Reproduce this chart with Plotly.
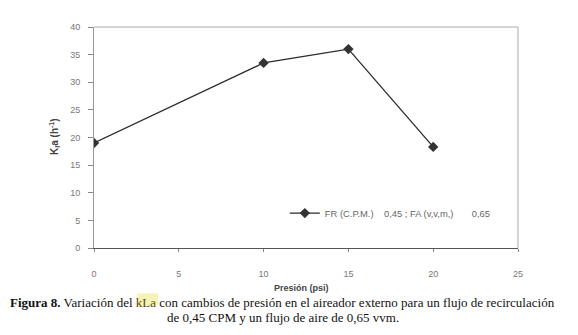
import plotly.graph_objects as go

presion = [0, 10, 15, 20]
kla = [19.0, 33.5, 36.0, 18.3]
x_ticks = [0, 5, 10, 15, 20, 25]
y_ticks = [0, 5, 10, 15, 20, 25, 30, 35, 40]
serie = "FR (C.P.M.)\u00a0\u00a0\u00a0\u00a00,45 ; FA (v,v,m,)\u00a0\u00a0\u00a0\u00a0\u00a0\u00a0\u00a00,65"

fig = go.Figure()
fig.add_trace(go.Scatter(
    x=presion, y=kla, mode="lines+markers", name=serie,
    line=dict(color="#2a2a2a", width=1.3),
    marker=dict(symbol="diamond", size=8, color="#333333"),
))

tickfont = dict(family="Liberation Sans, Arial", size=9, color="#777777")
fig.update_layout(
    width=570, height=327,
    margin=dict(l=86, r=60, t=19, b=87, autoexpand=False),
    paper_bgcolor="white", plot_bgcolor="white",
    showlegend=True,
    legend=dict(x=0.45, y=0.158, xanchor="left", yanchor="middle",
                font=dict(family="Liberation Sans, Arial", size=9.4, color="#666666"),
                bgcolor="rgba(0,0,0,0)", itemwidth=30),
    xaxis=dict(range=[0, 25], tickvals=x_ticks, showgrid=False, zeroline=False,
               showline=True, linecolor="#555555", linewidth=1, mirror=False,
               ticks="outside", ticklen=3, tickcolor="#888888", automargin=False,
               tickfont=tickfont, ticklabelstandoff=14),
    yaxis=dict(range=[0, 40], tickvals=y_ticks, showgrid=False, zeroline=False,
               showline=True, linecolor="#999999", linewidth=1, automargin=False,
               ticks="outside", ticklen=5, tickcolor="#888888",
               tickfont=tickfont, ticklabelstandoff=6),
    shapes=[
        dict(type="line", xref="paper", yref="paper", x0=0, x1=1, y0=1, y1=1,
             line=dict(color="#aaaaaa", width=1)),
        dict(type="line", xref="paper", yref="paper", x0=1, x1=1, y0=0, y1=1,
             line=dict(color="#aaaaaa", width=1)),
        dict(type="rect", xref="paper", yref="paper", x0=0.101, x1=0.151,
             y0=-0.205, y1=-0.26, fillcolor="#f6f3b4", line=dict(width=0),
             layer="below"),
    ],
    annotations=[
        dict(text="<b>K<sub>l</sub>a (h<sup>-1</sup>)</b>", xref="paper", yref="paper",
             x=-0.092, y=0.507, xanchor="center", yanchor="middle",
             showarrow=False, textangle=-90,
             font=dict(family="Liberation Sans, Arial", size=10, color="#444444")),
        dict(text="<b>Presión (psi)</b>", xref="paper", yref="paper",
             x=0.49, y=-0.181, xanchor="center", yanchor="middle", showarrow=False,
             font=dict(family="Liberation Sans, Arial", size=9, color="#444444")),
        dict(text="<b>Figura 8.</b> Variación del <span style='color:#5a4a10'>kLa</span> con cambios de presión en el aireador externo para un flujo de recirculación",
             xref="paper", yref="paper", x=0.445, y=-0.246, xanchor="center",
             yanchor="middle", showarrow=False,
             font=dict(family="Liberation Serif, DejaVu Serif", size=13, color="#111111")),
        dict(text="de 0,45 CPM y un flujo de aire de 0,65 vvm.",
             xref="paper", yref="paper", x=0.445, y=-0.315, xanchor="center",
             yanchor="middle", showarrow=False,
             font=dict(family="Liberation Serif, DejaVu Serif", size=13, color="#111111")),
    ],
)

fig.write_html("out.html")
